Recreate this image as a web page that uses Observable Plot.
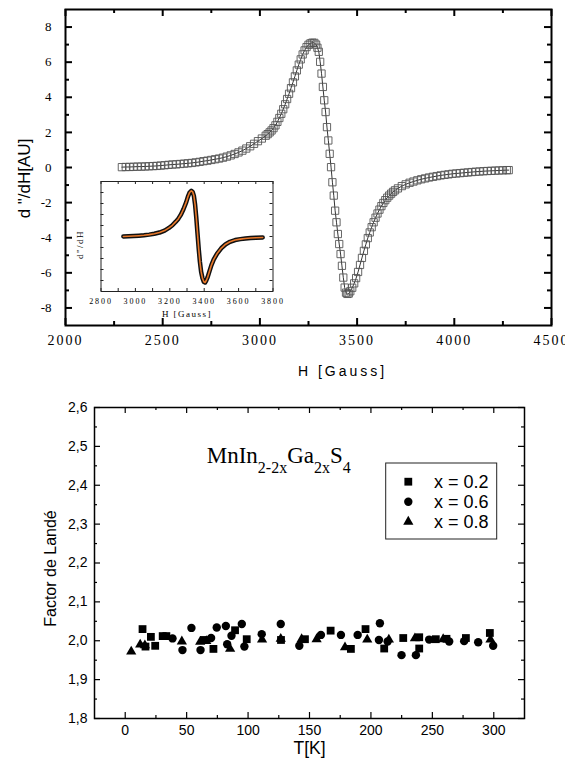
<!DOCTYPE html>
<html><head><meta charset="utf-8">
<script src="https://cdn.jsdelivr.net/npm/d3@7"></script>
<script src="https://cdn.jsdelivr.net/npm/@observablehq/plot@0.6"></script>
<style>
body{margin:0;background:#fff}
#wrap{position:relative;width:565px;height:767px;overflow:hidden;background:#fff}
#wrap svg{position:absolute;left:0}
</style></head><body><div id="wrap"></div>
<script>
// ---------- EPR spectrum (main panel) ----------
const eprH = [2290,2310,2330,2350,2370,2390,2410,2430,2450,2470,2490,2510,2530,2550,2570,2590,2610,2630,2650,2670,2690,2710,2730,2750,2770,2790,2810,2830,2850,2870,2890,2910,2930,2950,2970,2990,3010,3030,3040,3050,3060,3070,3080,3090,3100,3110,3120,3130,3140,3150,3160,3170,3180,3190,3200,3210,3220,3230,3240,3250,3260,3270,3280,3289,3296,3303,3310,3317,3324,3331,3338,3345,3352,3359,3366,3373,3380,3387,3394,3401,3408,3415,3422,3429,3436,3443,3450,3457,3465,3475,3485,3495,3505,3515,3525,3535,3545,3555,3565,3575,3585,3595,3605,3615,3625,3635,3645,3655,3665,3675,3685,3695,3710,3730,3750,3770,3790,3810,3830,3850,3870,3890,3910,3930,3950,3970,3990,4010,4030,4050,4070,4090,4110,4130,4150,4170,4190,4210,4230,4250,4270,4280];
const eprSignal = [0.02,0.03,0.03,0.04,0.05,0.05,0.06,0.07,0.08,0.09,0.11,0.13,0.15,0.17,0.18,0.20,0.22,0.24,0.26,0.29,0.32,0.36,0.39,0.43,0.47,0.51,0.56,0.62,0.69,0.77,0.86,0.96,1.08,1.21,1.35,1.50,1.65,1.81,1.90,2.00,2.11,2.24,2.40,2.60,2.82,3.06,3.32,3.60,3.90,4.20,4.52,4.85,5.19,5.53,5.86,6.16,6.44,6.67,6.86,6.99,7.07,7.11,7.10,7.00,6.82,6.59,6.02,5.35,4.59,3.83,3.16,2.30,1.54,0.78,0.02,-0.84,-1.60,-2.46,-3.12,-3.79,-4.36,-4.93,-5.60,-6.27,-6.84,-7.13,-7.20,-7.18,-7.05,-6.85,-6.60,-6.30,-5.95,-5.55,-5.15,-4.75,-4.38,-4.02,-3.70,-3.40,-3.12,-2.86,-2.62,-2.40,-2.20,-2.02,-1.86,-1.72,-1.60,-1.49,-1.39,-1.30,-1.19,-1.06,-0.96,-0.87,-0.80,-0.73,-0.67,-0.62,-0.57,-0.53,-0.49,-0.45,-0.42,-0.39,-0.36,-0.34,-0.32,-0.30,-0.28,-0.26,-0.24,-0.23,-0.21,-0.20,-0.19,-0.18,-0.17,-0.16,-0.15,-0.15];
const eprXTicks = [2000,2500,3000,3500,4000,4500];
const eprXMinor = [2250,2750,3250,3750,4250];
const eprYTicks = [-8,-6,-4,-2,0,2,4,6,8];
const eprYMinor = [-7,-5,-3,-1,1,3,5,7];

// ---------- inset spectrum ----------
const insetH = [2930,2960,2990,3020,3050,3080,3110,3140,3170,3195,3215,3235,3250,3265,3280,3295,3305,3315,3325,3333,3340,3347,3354,3361,3368,3375,3382,3390,3398,3405,3412,3420,3430,3442,3455,3475,3500,3525,3550,3580,3610,3640,3670,3700,3740];
const insetSignal = [0.00,0.02,0.04,0.07,0.11,0.17,0.25,0.36,0.54,0.78,1.02,1.35,1.62,2.00,2.50,3.10,3.60,4.00,4.15,4.05,3.70,2.90,1.70,0.30,-1.10,-2.30,-3.20,-3.80,-4.12,-4.18,-4.00,-3.70,-3.20,-2.60,-2.10,-1.55,-1.05,-0.70,-0.48,-0.32,-0.24,-0.18,-0.14,-0.11,-0.09];
const insetXTicks = [2800,3000,3200,3400,3600,3800];
const insetXMinor = [2900,3100,3300,3500,3700];
const insetYTicks = [-4,-3,-2,-1,0,1,2,3,4];

// ---------- Landé factor vs T ----------
const seriesNames = ["x = 0.2","x = 0.6","x = 0.8"];
const T02 = [14.1,16.5,20.9,24.4,30.5,33.5,64.0,71.8,89.4,98.9,126.8,146.3,167.2,183.7,195.6,210.8,226.3,239.3,239.3,252.8,261.5,277.3,296.8];
const g02 = [2.030,1.985,2.010,1.987,2.012,2.012,2.002,1.979,2.027,2.004,2.002,2.004,2.026,1.979,2.030,1.980,2.007,2.009,1.980,2.004,2.005,2.007,2.020];
const T06 = [38.5,46.6,53.9,61.3,69.9,74.5,81.9,83.0,86.5,94.9,97.0,111.1,126.6,141.7,159.3,175.6,189.2,206.5,207.3,213.6,224.9,236.6,247.4,263.7,275.9,287.3,299.5];
const g06 = [2.006,1.976,2.033,1.976,2.007,2.034,2.038,1.991,2.013,2.043,1.985,2.017,2.043,1.987,2.015,2.015,2.015,2.002,2.045,1.998,1.963,1.963,2.003,1.998,1.999,1.996,1.987];
const T08 = [4.9,12.2,16.0,46.1,61.0,66.0,85.4,111.4,126.6,143.6,155.8,178.9,197.0,214.6,235.8,258.8,297.3];
const g08 = [1.972,1.990,1.988,1.998,1.997,1.999,1.979,2.003,2.005,2.004,2.004,1.983,2.003,2.003,2.006,2.004,2.003];
const landeXTicks = [0,50,100,150,200,250,300];
const landeXMinor = [25,75,125,175,225,275];
const landeYTicks = [1.8,1.9,2.0,2.1,2.2,2.3,2.4,2.5,2.6];
const landeYMinor = [1.85,1.95,2.05,2.15,2.25,2.35,2.45,2.55];

// ---------- helpers ----------
const zip = (xs, ys, kx, ky) => xs.map((v, i) => ({[kx]: v, [ky]: ys[i]}));
function inTicksX(vals, innerH, len, sw, stroke) {
  return [
    Plot.tickX(vals, {x: d => d, insetTop: innerH - len, stroke, strokeWidth: sw}),
    Plot.tickX(vals, {x: d => d, insetBottom: innerH - len, stroke, strokeWidth: sw})
  ];
}
function inTicksY(vals, innerW, len, sw, stroke) {
  return [
    Plot.tickY(vals, {y: d => d, insetRight: innerW - len, stroke, strokeWidth: sw}),
    Plot.tickY(vals, {y: d => d, insetLeft: innerW - len, stroke, strokeWidth: sw})
  ];
}
const SANS = "'Liberation Sans', Arial, sans-serif";
const SERIF = "'Liberation Serif', 'Times New Roman', serif";
const wrap = document.getElementById("wrap");

// ---------- main EPR panel ----------
const eprData = zip(eprH, eprSignal, "H", "S");
const tW = 565, tH = 390, tM = {l: 65, r: 14, t: 9, b: 65};
const tIW = tW - tM.l - tM.r, tIH = tH - tM.t - tM.b;
const topPlot = Plot.plot({
  width: tW, height: tH,
  marginLeft: tM.l, marginRight: tM.r, marginTop: tM.t, marginBottom: tM.b,
  style: {background: "transparent", fontFamily: SERIF, overflow: "visible"},
  x: {domain: [2000, 4500]},
  y: {domain: [-9, 9]},
  marks: [
    Plot.line(eprData, {x: "H", y: "S", stroke: "black", strokeWidth: 0.8}),
    Plot.dot(eprData, {x: "H", y: "S", symbol: "square", r: 4.1, stroke: "#555", strokeWidth: 0.9, fill: "none"}),
    ...inTicksX(eprXTicks, tIH, 7, 2, "black"),
    ...inTicksX(eprXMinor, tIH, 4, 2, "black"),
    ...inTicksY(eprYTicks, tIW, 7, 2, "black"),
    ...inTicksY(eprYMinor, tIW, 4, 2, "black"),
    Plot.frame({stroke: "black", strokeWidth: 2}),
    Plot.axisX({ticks: eprXTicks, tickSize: 0, tickPadding: 10, fontSize: 14, tickFormat: d => String(d), label: null}),
    Plot.axisY({ticks: eprYTicks, tickSize: 0, tickPadding: 14, fontSize: 13, tickFormat: d => String(d), label: null}),
    Plot.text(["H [Gauss]"], {text: d => d, frameAnchor: "bottom", dx: 34, dy: 50, fontSize: 14, fontFamily: SANS}),
    Plot.text(['d "/dH[AU]'], {text: d => d, frameAnchor: "left", textAnchor: "middle", dx: -41, dy: 11, rotate: -90, fontSize: 17, fontFamily: SANS})
  ]
});
topPlot.style.top = "0px";
wrap.appendChild(topPlot);
d3.select(topPlot).select('[aria-label="x-axis tick label"]').style("letter-spacing", "2px");
d3.select(topPlot).selectAll('[aria-label="text"]').filter((d, i) => i === 0).style("letter-spacing", "3px");

// ---------- inset ----------
const insetData = zip(insetH, insetSignal, "H", "S");
const iW = 290, iH = 330, iM = {l: 100.5, r: 17.5, t: 181, b: 39};
const iIW = iW - iM.l - iM.r, iIH = iH - iM.t - iM.b;
const insetPlot = Plot.plot({
  width: iW, height: iH,
  marginLeft: iM.l, marginRight: iM.r, marginTop: iM.t, marginBottom: iM.b,
  style: {background: "transparent", fontFamily: SERIF, overflow: "visible"},
  x: {domain: [2800, 3800]},
  y: {domain: [-5, 5], axis: null},
  marks: [
    Plot.frame({fill: "white", stroke: "none"}),
    ...inTicksX(insetXTicks, iIH, 3, 1, "#222"),
    ...inTicksX(insetXMinor, iIH, 3, 1, "#222"),
    ...inTicksY(insetYTicks, iIW, 3, 1, "#222"),
    Plot.line(insetData, {x: "H", y: "S", stroke: "#111", strokeWidth: 4.5}),
    Plot.line(insetData, {x: "H", y: "S", stroke: "#e8782a", strokeWidth: 1.6}),
    Plot.frame({stroke: "#222", strokeWidth: 1}),
    Plot.axisX({ticks: insetXTicks, tickSize: 0, tickPadding: 7, fontSize: 8, tickFormat: d => String(d), label: null}),
    Plot.text(["H [Gauss]"], {text: d => d, frameAnchor: "bottom", dy: 25, fontSize: 9}),
    Plot.text(['d"/dH'], {text: d => d, frameAnchor: "left", textAnchor: "middle", dx: -20.5, dy: 8, rotate: -90, fontSize: 9})
  ]
});
insetPlot.style.top = "0px";
wrap.appendChild(insetPlot);
d3.select(insetPlot).select('[aria-label="x-axis tick label"]').style("letter-spacing", "1.9px");
d3.select(insetPlot).selectAll('[aria-label="text"]').style("letter-spacing", "1.5px");

// ---------- Landé panel ----------
const bW = 565, bH = 377, bM = {l: 94, r: 41, t: 17, b: 49};
const bIW = bW - bM.l - bM.r, bIH = bH - bM.t - bM.b;
const sym = {s: 4.4, c: 4.2, t: 3.8};
const botPlot = Plot.plot({
  width: bW, height: bH,
  marginLeft: bM.l, marginRight: bM.r, marginTop: bM.t, marginBottom: bM.b,
  style: {background: "transparent", fontFamily: SANS, overflow: "visible"},
  x: {domain: [-25, 325]},
  y: {domain: [1.8, 2.6]},
  marks: [
    ...inTicksX(landeXTicks, bIH, 6, 1.2, "black"),
    ...inTicksX(landeXMinor, bIH, 3, 1.2, "black"),
    ...inTicksY(landeYTicks, bIW, 6, 1.2, "black"),
    ...inTicksY(landeYMinor, bIW, 3, 1.2, "black"),
    Plot.frame({stroke: "black", strokeWidth: 1.5}),
    Plot.axisX({ticks: landeXTicks, tickSize: 0, tickPadding: 7, fontSize: 14, tickFormat: d => String(d), label: null}),
    Plot.axisY({ticks: landeYTicks, tickSize: 0, tickPadding: 7, fontSize: 14, tickFormat: d => d.toFixed(1).replace(".", ","), label: null}),
    Plot.dot(zip(T02, g02, "T", "g"), {x: "T", y: "g", symbol: "square", r: sym.s, fill: "black"}),
    Plot.dot(zip(T06, g06, "T", "g"), {x: "T", y: "g", symbol: "circle", r: sym.c, fill: "black"}),
    Plot.dot(zip(T08, g08, "T", "g"), {x: "T", y: "g", symbol: "triangle", r: sym.t, fill: "black"}),
    Plot.text(["T[K]"], {text: d => d, frameAnchor: "bottom", dy: 35, fontSize: 17.5}),
    Plot.text(["Factor de Landé"], {text: d => d, frameAnchor: "left", textAnchor: "middle", dx: -44, dy: 5.5, rotate: -90, fontSize: 16})
  ]
});
botPlot.style.top = "390px";
wrap.appendChild(botPlot);

// formula annotation
const bsv = d3.select(botPlot);
const f = bsv.append("text")
  .attr("x", 206.7).attr("y", 73.3).attr("text-anchor", "start")
  .attr("font-family", SERIF)
  .attr("font-size", 23).attr("fill", "black");
const parts = [["MnIn", 0], ["2-2x", 1], ["Ga", 0], ["2x", 1], ["S", 0], ["4", 1]];
let low = false;
parts.forEach(([t, sub]) => {
  const ts = f.append("tspan").text(t).attr("font-size", sub ? 16 : 23);
  if (sub && !low) { ts.attr("dy", 9.7); low = true; }
  else if (!sub && low) { ts.attr("dy", -9.7); low = false; }
});

// legend
const lg = bsv.append("g");
lg.append("rect").attr("x", 385.7).attr("y", 73).attr("width", 111).attr("height", 76)
  .attr("fill", "white").attr("stroke", "#222").attr("stroke-width", 1);
const legSyms = [[d3.symbolSquare, sym.s], [d3.symbolCircle, sym.c], [d3.symbolTriangle, sym.t]];
seriesNames.forEach((name, i) => {
  const cy = 91.7 + i * 20;
  lg.append("path").attr("transform", `translate(408.3,${cy})`)
    .attr("d", d3.symbol(legSyms[i][0], legSyms[i][1] * legSyms[i][1] * Math.PI)()).attr("fill", "black");
  lg.append("text").attr("x", 434).attr("y", cy + 6.5).attr("text-anchor", "start").attr("font-size", 18)
    .attr("font-family", SANS).text(name);
});
</script></body></html>
